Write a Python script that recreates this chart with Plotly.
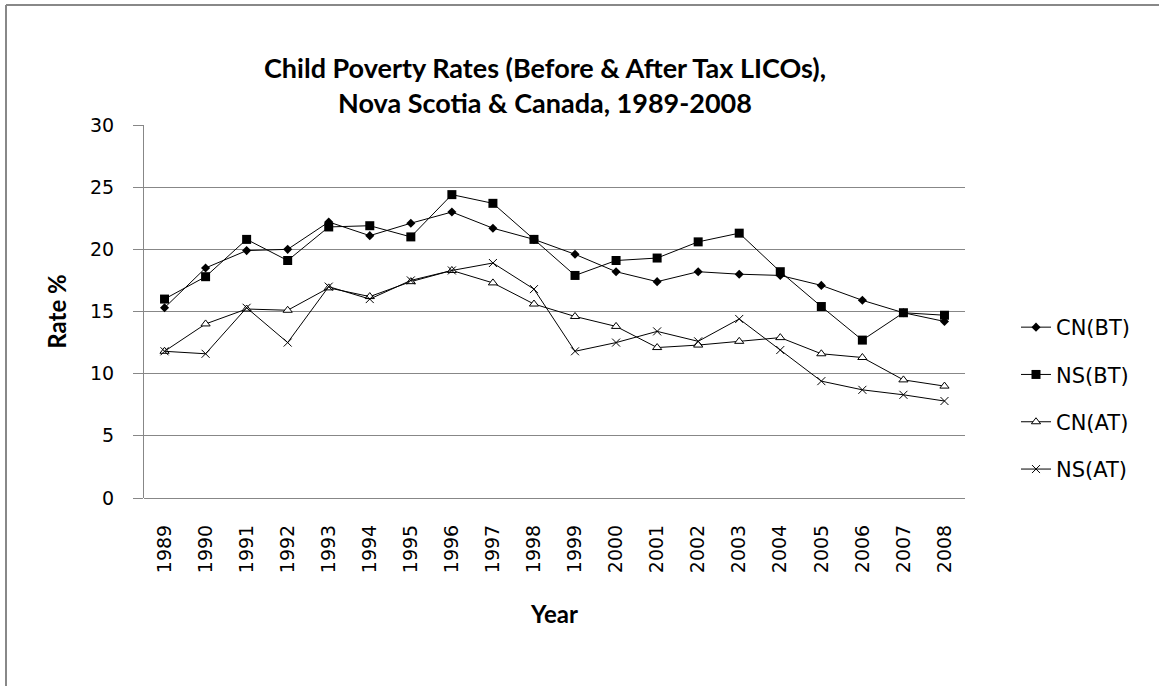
import plotly.graph_objects as go

years = [str(y) for y in range(1989, 2009)]
cn_bt = [15.3, 18.5, 19.9, 20.0, 22.2, 21.1, 22.1, 23.0, 21.7, 20.8, 19.6, 18.2, 17.4, 18.2, 18.0, 17.9, 17.1, 15.9, 14.9, 14.2]
ns_bt = [16.0, 17.8, 20.8, 19.1, 21.8, 21.9, 21.0, 24.4, 23.7, 20.8, 17.9, 19.1, 19.3, 20.6, 21.3, 18.2, 15.4, 12.7, 14.9, 14.7]
cn_at = [11.8, 14.0, 15.2, 15.1, 16.9, 16.2, 17.4, 18.3, 17.3, 15.6, 14.6, 13.8, 12.1, 12.3, 12.6, 12.9, 11.6, 11.3, 9.5, 9.0]
ns_at = [11.8, 11.6, 15.3, 12.5, 17.0, 16.0, 17.5, 18.3, 18.9, 16.8, 11.8, 12.5, 13.4, 12.6, 14.4, 11.9, 9.4, 8.7, 8.3, 7.8]

tick_font = "DejaVu Sans, Verdana, sans-serif"
title_font = "Lato, sans-serif"

fig = go.Figure()
series = [
    ("CN(BT)", cn_bt, dict(symbol="diamond", size=7, color="black")),
    ("NS(BT)", ns_bt, dict(symbol="square", size=9, color="black")),
    ("CN(AT)", cn_at, dict(symbol="triangle-up", size=8, color="white", line=dict(color="black", width=1))),
    ("NS(AT)", ns_at, dict(symbol="x-thin-open", size=8, color="black", line=dict(color="black", width=1))),
]
for name, vals, mk in series:
    fig.add_trace(go.Scatter(
        x=years, y=vals, name=name, legendgroup=name, mode="lines+markers",
        line=dict(color="black", width=1), marker=mk,
    ))

fig.update_layout(
    width=1159, height=686,
    margin=dict(l=144, r=194, t=125, b=188),
    paper_bgcolor="white", plot_bgcolor="white",
    title=dict(
        text="Child Poverty Rates (Before & After Tax LICOs),<br>Nova Scotia & Canada, 1989-2008",
        x=545 / 1159, xanchor="center", y=1 - 78 / 686, yanchor="top",
        font=dict(family=title_font, size=27, color="black", weight="bold"),
    ),
    legend=dict(
        x=(1016 - 144) / 821, xanchor="left", y=(498 - 307) / 373, yanchor="top",
        font=dict(family=tick_font, size=21, color="black"),
        tracegroupgap=17, bgcolor="rgba(0,0,0,0)",
    ),
    showlegend=True,
    xaxis=dict(
        type="category", range=[-0.5, 19.5],
        tickangle=-90, tickfont=dict(family=tick_font, size=19, color="black"),
        showgrid=False, showline=False, ticks="", ticklabelstandoff=22,
        title=dict(text="Year", font=dict(family=title_font, size=24, color="black", weight="bold"), standoff=34),
    ),
    yaxis=dict(
        range=[0, 30], tickvals=[0, 5, 10, 15, 20, 25, 30],
        tickfont=dict(family=tick_font, size=19, color="black"),
        showgrid=True, gridcolor="#878787", gridwidth=1,
        showline=True, linecolor="#878787", linewidth=1,
        ticks="outside", ticklen=10, tickcolor="#878787", ticklabelstandoff=15,
        zeroline=True, zerolinecolor="#878787", zerolinewidth=1,
        title=dict(text="Rate %", font=dict(family=title_font, size=24, color="black", weight="bold"), standoff=16),
    ),
    shapes=[
        dict(type="line", xref="paper", yref="paper",
             x0=(6 - 144) / 821, x1=(1160 - 144) / 821, y0=(498 - 5) / 373, y1=(498 - 5) / 373,
             line=dict(color="#888888", width=2)),
        dict(type="line", xref="paper", yref="paper",
             x0=(6 - 144) / 821, x1=(6 - 144) / 821, y0=(498 - 5) / 373, y1=(498 - 690) / 373,
             line=dict(color="#888888", width=2)),
    ],
)

fig.write_html("out.html")
